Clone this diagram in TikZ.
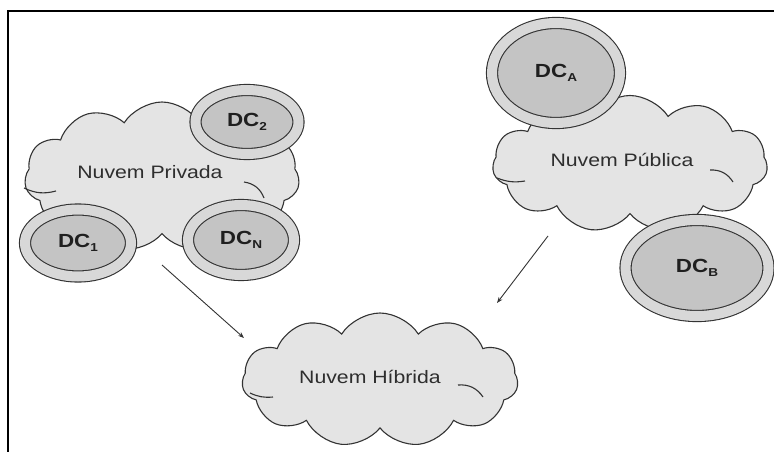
\documentclass[tikz,border=0pt]{standalone}
\usepackage{fontspec}
\setmainfont{Liberation Sans}[FakeStretch=1.18]
\usetikzlibrary{shapes.symbols,shapes.geometric,arrows.meta}
\definecolor{cloudfill}{HTML}{E4E4E4}
\definecolor{ringfill}{HTML}{D8D8D8}
\definecolor{corefill}{HTML}{C4C4C4}
\definecolor{edge}{HTML}{333333}
\definecolor{labeltext}{HTML}{2E2E2E}
\newcommand\dclabel[1]{\textbf{DC\raisebox{-3.5pt}{\fontsize{11.5}{11.5}\selectfont #1}}}
\begin{document}
\begin{tikzpicture}[x=1pt,y=-1pt,
  cloudbody/.style={shape=cloud, cloud puffs=11, cloud puff arc=115,
    cloud ignores aspect, draw=edge, line width=1.1pt, fill=cloudfill, inner sep=0pt},
  cloudtext/.style={font=\fontsize{18}{18}\selectfont, text=labeltext},
  curl/.style={draw=edge, line width=1.1pt},
  dcnode/.style={ellipse, draw=edge, line width=1.1pt, double=ringfill,
    double distance=10pt, fill=corefill, inner sep=0pt,
    font=\fontsize{19}{19}\selectfont, text=black!88},
  link/.style={draw=edge, line width=0.9pt, -{Stealth[length=6pt,width=4.5pt]}}]
\useasboundingbox (0,0) rectangle (774,452);

% frame (top and left rules)
\draw[line width=2pt] (8,452) -- (8,11) -- (774,11);

% private cloud with its data centres
\node[cloudbody, minimum width=275pt, minimum height=150pt] (priv) at (162,177) {};
\draw[curl] (24,188) to[bend right=20] (56,191);
\draw[curl] (244,182) to[bend left=30] (264,198);
\node[cloudtext] (privtxt) at (150,172) {Nuvem Privada};
\node[dcnode, minimum width=103pt, minimum height=64pt] (dc2) at (247,122) {\dclabel{2}};
\node[dcnode, minimum width=106pt, minimum height=67pt] (dc1) at (78,243) {\dclabel{1}};
\node[dcnode, minimum width=106pt, minimum height=70pt] (dcn) at (241,240) {\dclabel{N}};

% public cloud with its data centres
\node[cloudbody, minimum width=275pt, minimum height=137pt] (pub) at (630,164) {};
\draw[curl] (497,178) to[bend right=15] (525,181);
\draw[curl] (710,170) to[bend left=30] (733,182);
\node[cloudtext] (pubtxt) at (622,160) {Nuvem Pública};
\node[dcnode, minimum width=128pt, minimum height=100pt] (dca) at (556,73) {\dclabel{A}};
\node[dcnode, minimum width=143pt, minimum height=96pt] (dcb) at (697,268) {\dclabel{B}};

% hybrid cloud
\node[cloudbody, minimum width=276pt, minimum height=134pt] (hyb) at (380,380) {};
\draw[curl] (250,393) to[bend right=15] (273,397);
\draw[curl] (458,385) to[bend left=30] (483,397);
\node[cloudtext] (hybtxt) at (370,377) {Nuvem Híbrida};

% arrows into the hybrid cloud
\coordinate (privout) at (162,265);
\coordinate (hybinl) at (244,338);
\coordinate (pubout) at (548,236);
\coordinate (hybinr) at (497,303);
\draw[link] (privout) -- (hybinl);
\draw[link] (pubout) -- (hybinr);
\end{tikzpicture}
\end{document}
